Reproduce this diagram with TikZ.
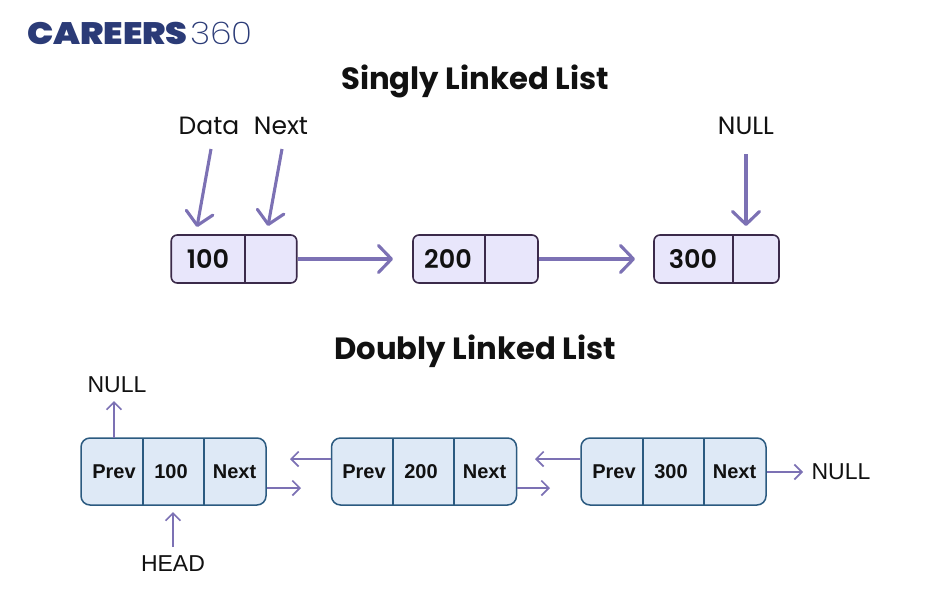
\documentclass[tikz,border=0pt]{standalone}
\usepackage{fontspec}
\setmainfont{Poppins}
\newfontfamily\labelfont{Liberation Sans}
\newfontfamily\valuefont{Poppins}[UprightFont=*-SemiBold]
\newfontfamily\titlefont{Poppins}[UprightFont=*-Bold]
\newfontfamily\logobold{Poppins}[UprightFont=*-Black,FakeStretch=1.125]
\newfontfamily\logothin{Poppins}[UprightFont=*-ExtraLight,FakeStretch=1.12]
\usetikzlibrary{arrows.meta}
\definecolor{logoblue}{HTML}{2B3B77}
\definecolor{linkviolet}{HTML}{7C71B4}
\definecolor{cellviolet}{HTML}{E8E6FB}
\definecolor{edgeplum}{HTML}{3B2A4A}
\definecolor{cellblue}{HTML}{DEE9F6}
\definecolor{edgeblue}{HTML}{2B5A80}
\definecolor{inkblack}{HTML}{111111}
\tikzset{
  x=1pt,y=-1pt,
  titletext/.style={font=\titlefont\fontsize{30.7}{32}\selectfont,text=inkblack,inner sep=0pt},
  uppertext/.style={font=\fontsize{25}{27}\selectfont,text=inkblack,inner sep=0pt},
  lowertext/.style={font=\labelfont\fontsize{23}{25}\selectfont,text=inkblack,inner sep=0pt},
  singlebox/.style={draw=edgeplum,fill=cellviolet,line width=1.6pt,rounded corners=6pt,minimum height=48pt,inner sep=0pt},
  doublebox/.style={draw=edgeblue,fill=cellblue,line width=1.5pt,rounded corners=9pt,minimum height=67pt,minimum width=185pt,inner sep=0pt},
  singlevalue/.style={font=\valuefont\fontsize{25.5}{27}\selectfont,text=inkblack,inner sep=0pt},
  doublecell/.style={font=\labelfont\bfseries\fontsize{20}{22}\selectfont,text=inkblack,inner sep=0pt},
  bigarrow/.style={draw=linkviolet,line width=3.1pt,-{Straight Barb[length=13pt,width=27pt,line width=3.1pt,round]}},
  smallarrow/.style={draw=linkviolet,line width=1.7pt,-{Straight Barb[length=7.5pt,width=15pt,line width=1.7pt]}},
  plumrule/.style={draw=edgeplum,line width=1.6pt},
  bluerule/.style={draw=edgeblue,line width=1.5pt},
}
\begin{document}
\begin{tikzpicture}
\useasboundingbox (0,0) rectangle (950,600);

% Wordmark
\node[anchor=west,inner sep=0pt,text=logoblue] (wordA) at (27,33)
  {\logobold\fontsize{31}{33}\selectfont CAREERS};
\node[anchor=west,inner sep=0pt,text=logoblue] (wordB) at (190,33)
  {\logothin\fontsize{31}{33}\selectfont 360};

% Singly linked list
\node[titletext] (titleS) at (475,81) {Singly Linked List};
\node[singlebox,minimum width=125.5pt] (s1) at (234,259) {};
\node[singlebox,minimum width=125pt] (s2) at (475.5,259) {};
\node[singlebox,minimum width=125pt] (s3) at (716.5,259) {};
\draw[plumrule] (245,235) -- (245,283);
\draw[plumrule] (485,235) -- (485,283);
\draw[plumrule] (733,235) -- (733,283);
\node[singlevalue] (v1) at (208,259) {100};
\node[singlevalue] (v2) at (448,259) {200};
\node[singlevalue] (v3) at (693,259) {300};
\node[uppertext] (data) at (209,126) {Data};
\node[uppertext] (next) at (281,126) {Next};
\node[uppertext] (nullS) at (746,126) {NULL};
\coordinate (dataTop) at (211,149);
\coordinate (dataTip) at (197,227);
\coordinate (nextTop) at (282,149);
\coordinate (nextTip) at (268,226);
\coordinate (nullTop) at (746,154);
\coordinate (nullTip) at (746,226);
\draw[bigarrow] (dataTop) -- (dataTip);
\draw[bigarrow] (nextTop) -- (nextTip);
\draw[bigarrow] (nullTop) -- (nullTip);
\draw[bigarrow] (s1.east) -- (s2.west -| 393,259);
\draw[bigarrow] (s2.east) -- (s3.west -| 635,259);

% Doubly linked list
\node[titletext] (titleD) at (475,351) {Doubly Linked List};
\foreach \name/\cx/\ca/\cb/\val/\xa/\xb/\xc in {
  d1/173.5/143/204/100/114/171/234.5,
  d2/424/393/454/200/364/421/484.5,
  d3/673.5/643/704/300/614/671/734.5}{
  \node[doublebox] (\name) at (\cx,471.5) {};
  \draw[bluerule] (\ca,438) -- (\ca,505);
  \draw[bluerule] (\cb,438) -- (\cb,505);
  \node[doublecell] (\name p) at (\xa,472) {Prev};
  \node[doublecell] (\name v) at (\xb,472) {\val};
  \node[doublecell] (\name n) at (\xc,472) {Next};
}
\node[lowertext] (nullA) at (117,385) {NULL};
\node[lowertext] (head) at (173,564) {HEAD};
\node[lowertext] (nullB) at (841,472) {NULL};
\coordinate (nullAroot) at (114,438);
\coordinate (nullAtip) at (114,401);
\coordinate (headroot) at (173,547);
\coordinate (headtip) at (173,512);
\draw[smallarrow] (nullAroot) -- (nullAtip);
\draw[smallarrow] (headroot) -- (headtip);
\coordinate (b21) at (290,459);
\coordinate (f12) at (301,488);
\coordinate (b32) at (535,459);
\coordinate (f23) at (550,488);
\coordinate (fend) at (803,472);
\draw[smallarrow] (d2.west |- b21) -- (b21);
\draw[smallarrow] (d1.east |- f12) -- (f12);
\draw[smallarrow] (d3.west |- b32) -- (b32);
\draw[smallarrow] (d2.east |- f23) -- (f23);
\draw[smallarrow] (d3.east |- fend) -- (fend);
\end{tikzpicture}
\end{document}
